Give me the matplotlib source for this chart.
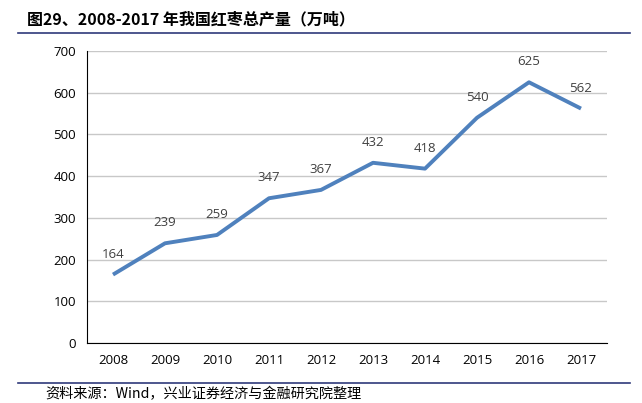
import matplotlib
matplotlib.use("Agg")
from matplotlib import pyplot as plt
from matplotlib.lines import Line2D

years = ["2008", "2009", "2010", "2011", "2012", "2013", "2014", "2015", "2016", "2017"]
output = [164, 239, 259, 347, 367, 432, 418, 540, 625, 562]
yticks = [0, 100, 200, 300, 400, 500, 600, 700]

title = "图29、2008-2017 年我国红枣总产量（万吨）"
source = "资料来源：Wind，兴业证券经济与金融研究院整理"

plt.rcParams['font.family'] = ['Open Sans', 'Noto Sans CJK SC', 'DejaVu Sans']

fig = plt.figure(figsize=(6.42, 4.03), dpi=100)
ax = fig.add_axes([87/642, 1-343/403, 520/642, 292/403])

x = list(range(len(years)))
ax.plot(x, output, color="#4f81bd", lw=2.8, solid_capstyle="butt", zorder=3)
for i, v in zip(x, output):
    ax.annotate(str(v), (i, v), xytext=(0, 10), textcoords="offset points",
                ha="center", va="bottom", fontsize=9.5, color="#404040")

ax.set_xlim(-0.5, len(years) - 0.5)
ax.set_ylim(0, 700)
ax.set_yticks(yticks)
ax.set_xticks(x)
ax.set_xticklabels(years)
ax.yaxis.grid(True, color="#c8c8c8", lw=1)
ax.set_axisbelow(True)
for s in ["top", "right"]:
    ax.spines[s].set_visible(False)
ax.spines["left"].set_color("black")
ax.spines["bottom"].set_color("black")
ax.tick_params(length=0, labelsize=9.5, colors="black", pad=8)

# titre + traits
fig.text(27/642, 1-19/403, title, fontsize=11.5, fontweight="bold",
         family=["Noto Sans CJK SC"], va="center", ha="left")
fig.add_artist(Line2D([18/642, 630/642], [1-33/403, 1-33/403], color="#2f3a7a", lw=1.2))
fig.add_artist(Line2D([18/642, 630/642], [1-383/403, 1-383/403], color="#2f3a7a", lw=1.2))
fig.text(45/642, 1-394/403, source, fontsize=10.2,
         family=["Noto Sans CJK SC"], va="center", ha="left")

fig.savefig("out.png", dpi=100)
